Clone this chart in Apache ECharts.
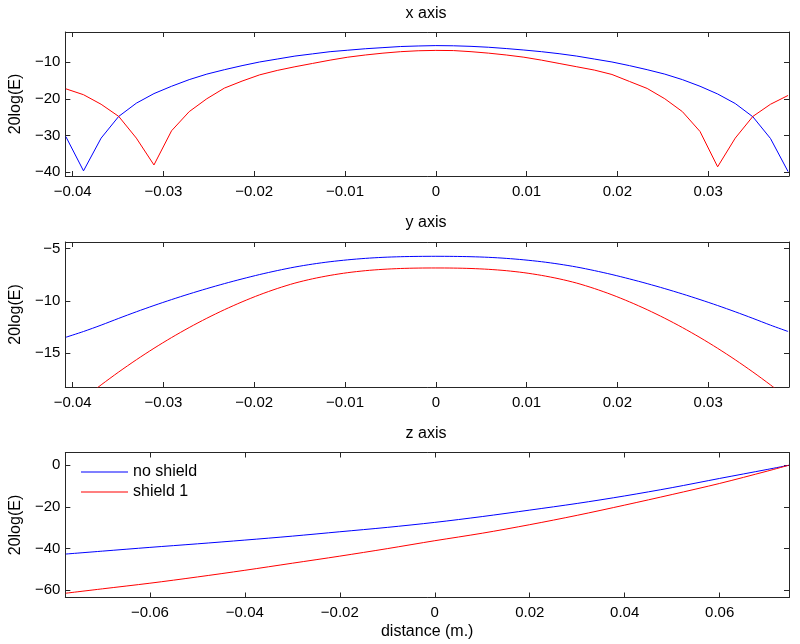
<!DOCTYPE html>
<html>
<head>
<meta charset="utf-8">
<script src="https://cdn.jsdelivr.net/npm/echarts@6/dist/echarts.min.js"></script>
<style>
  html, body { margin: 0; padding: 0; background: #fff; }
  #chart { width: 800px; height: 644px; }
</style>
</head>
<body>
<div id="chart"></div>
<script>
// sample positions (m.) for the x axis and y axis plots
const xyDist = [
  -0.04074, -0.0388, -0.03686, -0.03492, -0.03298, -0.03104, -0.0291, -0.02716,
  -0.02522, -0.02328, -0.02134, -0.0194, -0.01746, -0.01552, -0.01358, -0.01164,
  -0.0097, -0.00776, -0.00582, -0.00388, -0.00194, 0,
  0.00194, 0.00388, 0.00582, 0.00776, 0.0097, 0.01164, 0.01358, 0.01552,
  0.01746, 0.0194, 0.02134, 0.02328, 0.02522, 0.02716, 0.0291, 0.03104,
  0.03298, 0.03492, 0.03686, 0.0388
];

// x axis plot
const xNoShield = [
  -30.3, -39.6, -30.7, -24.8, -21.2, -18.6, -16.6, -14.8, -13.3, -12.1, -11.0,
  -10.0, -9.2, -8.4, -7.8, -7.2, -6.8, -6.4, -6.1, -5.8, -5.65, -5.55,
  -5.6, -5.75, -6.0, -6.35, -6.75, -7.2, -7.75, -8.4, -9.2, -10.0,
  -11.0, -12.1, -13.3, -14.8, -16.6, -18.7, -21.3, -24.9, -30.8, -39.8
];
const xShield1 = [
  -17.3, -18.9, -21.5, -24.8, -30.7, -38.0, -28.7, -23.5, -20.0, -17.1, -15.2,
  -13.5, -12.3, -11.3, -10.4, -9.5, -8.7, -8.1, -7.6, -7.2, -6.95, -6.85,
  -6.9, -7.2, -7.6, -8.1, -8.7, -9.5, -10.4, -11.3, -12.2, -13.4,
  -15.3, -17.2, -20.0, -23.5, -28.9, -38.5, -30.7, -24.8, -21.5, -19.1
];

// y axis plot
const yNoShield = [
  -13.49, -12.94, -12.33, -11.68, -11.05, -10.45, -9.88, -9.34, -8.83, -8.35, -7.9,
  -7.48, -7.1, -6.76, -6.48, -6.25, -6.07, -5.93, -5.83, -5.77, -5.74, -5.73,
  -5.74, -5.77, -5.83, -5.93, -6.07, -6.25, -6.48, -6.76, -7.1, -7.48,
  -7.9, -8.35, -8.83, -9.34, -9.88, -10.45, -11.05, -11.68, -12.33, -12.94
];
const yShield1 = [
  -20.75, -19.37, -18.06, -16.82, -15.65, -14.55, -13.52, -12.56, -11.67, -10.85, -10.1,
  -9.42, -8.82, -8.3, -7.89, -7.56, -7.3, -7.11, -6.98, -6.9, -6.86, -6.85,
  -6.86, -6.9, -6.98, -7.11, -7.3, -7.56, -7.89, -8.3, -8.82, -9.42,
  -10.1, -10.85, -11.67, -12.56, -13.52, -14.55, -15.65, -16.82, -18.06, -19.37
];

// z axis plot
const zDist = [-0.0777, -0.07, -0.06, -0.05, -0.04, -0.03, -0.02, -0.01, 0,
  0.01, 0.02, 0.03, 0.04, 0.05, 0.06, 0.07, 0.0745];
const zNoShield = [-42.6, -41.2, -39.4, -37.7, -35.9, -34.0, -31.9, -29.8, -27.4,
  -24.6, -21.5, -18.3, -14.7, -10.7, -6.3, -2.0, 0];
const zShield1 = [-61.4, -59.3, -56.6, -53.6, -50.4, -47.0, -43.6, -40.0, -36.2,
  -32.6, -28.5, -24.0, -19.1, -14.0, -8.7, -2.8, 0];

// tick labels
const xyTicks = [-0.04, -0.03, -0.02, -0.01, 0, 0.01, 0.02, 0.03];
const zTicks = [-0.06, -0.04, -0.02, 0, 0.02, 0.04, 0.06];
const xValTicks = [-40, -30, -20, -10];
const yValTicks = [-15, -10, -5];
const zValTicks = [-60, -40, -20, 0];

const FONT = '"Liberation Sans", Arial, sans-serif';
const AXIS_COLOR = '#262626';
const BLUE = '#0000ff';
const RED = '#ff0000';

const chart = echarts.init(document.getElementById('chart'));

const grids = [
  {left: 63, right: 11, top: 32, height: 144},
  {left: 63, right: 11, top: 242, height: 145},
  {left: 63, right: 11, top: 452.5, height: 145}
];
const xRanges = [[-0.0408, 0.0389], [-0.0408, 0.0389], [-0.0778, 0.0746]];
const yRanges = [[-41.0, -1.85], [-18.26, -4.36], [-63.46, 6.15]];
const xTickSets = [xyTicks, xyTicks, zTicks];
const yTickSets = [xValTicks, yValTicks, zValTicks];

function fmt(v) {
  return String(v).replace('-', '\u2212');
}

function makeAxis(kind, g, pos, main) {
  const range = kind === 'x' ? xRanges[g] : yRanges[g];
  const ticks = kind === 'x' ? xTickSets[g] : yTickSets[g];
  return {
    type: 'value',
    gridIndex: g,
    position: pos,
    min: range[0],
    max: range[1],
    axisLine: {show: true, onZero: false, lineStyle: {color: AXIS_COLOR, width: 1}},
    axisTick: {show: true, inside: true, length: 5, customValues: ticks,
      lineStyle: {color: AXIS_COLOR, width: 1}},
    axisLabel: {show: main, customValues: ticks, formatter: fmt,
      margin: kind === 'x' ? 8 : 5, color: '#000', fontSize: 15, fontFamily: FONT},
    splitLine: {show: false},
    name: main && kind === 'y' ? '20log(E)' : (main && g === 2 ? 'distance (m.)' : ''),
    nameLocation: 'middle',
    nameGap: kind === 'y' ? 38 : 26,
    nameTextStyle: {color: '#000', fontSize: 16, fontFamily: FONT}
  };
}

const xAxes = [];
const yAxes = [];
for (let g = 0; g < 3; g++) {
  xAxes.push(makeAxis('x', g, 'bottom', true));
  xAxes.push(makeAxis('x', g, 'top', false));
  yAxes.push(makeAxis('y', g, 'left', true));
  yAxes.push(makeAxis('y', g, 'right', false));
}

function pairs(xs, ys) {
  return xs.map((x, i) => [x, ys[i]]);
}

function line(name, color, g, xs, ys, smooth) {
  return {
    name, type: 'line', xAxisIndex: 2 * g, yAxisIndex: 2 * g,
    data: pairs(xs, ys), symbol: 'none', smooth: smooth, clip: true,
    lineStyle: {color, width: 1}, itemStyle: {color},
    emphasis: {disabled: true}, silent: true
  };
}

chart.setOption({
  animation: false,
  backgroundColor: '#fff',
  textStyle: {fontFamily: FONT},
  title: [
    {text: 'x axis', left: 426, top: 6},
    {text: 'y axis', left: 426, top: 215},
    {text: 'z axis', left: 426, top: 426}
  ].map(t => Object.assign(t, {textAlign: 'center', padding: 0,
    textStyle: {fontSize: 16, fontWeight: 'normal', color: '#000', fontFamily: FONT}})),
  legend: {
    data: ['no shield', 'shield 1'],
    orient: 'vertical', left: 81, top: 464, padding: 0,
    icon: 'rect', itemWidth: 47, itemHeight: 1, itemGap: 4,
    textStyle: {fontSize: 16, color: '#000', fontFamily: FONT},
    selectedMode: false
  },
  grid: grids,
  xAxis: xAxes,
  yAxis: yAxes,
  series: [
    line('no shield', BLUE, 0, xyDist, xNoShield, false),
    line('shield 1', RED, 0, xyDist, xShield1, false),
    line('no shield', BLUE, 1, xyDist, yNoShield, 0.3),
    line('shield 1', RED, 1, xyDist, yShield1, 0.3),
    line('no shield', BLUE, 2, zDist, zNoShield, 0.3),
    line('shield 1', RED, 2, zDist, zShield1, 0.3)
  ]
});
</script>
</body>
</html>
